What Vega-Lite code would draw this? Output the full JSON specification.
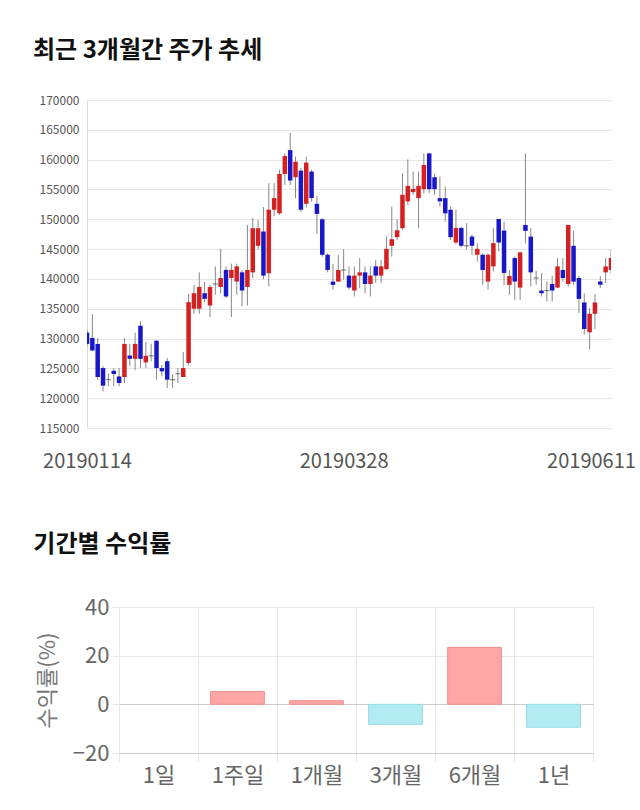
{
  "$schema": "https://vega.github.io/schema/vega-lite/v6.json",
  "background": "white",
  "padding": {"left": 33, "top": 39, "right": 0, "bottom": 0},
  "config": {"view": {"stroke": null}, "font": "Noto Sans CJK KR", "axisY": {"labelOverlap": false}},
  "datasets": {
    "candles": [
      {"d":"20190114","o":131000,"h":131500,"l":128700,"c":129100},
      {"d":"20190115","o":130100,"h":134100,"l":127900,"c":128000},
      {"d":"20190116","o":129100,"h":130100,"l":123100,"c":123550},
      {"d":"20190117","o":125050,"h":125350,"l":121150,"c":122100},
      {"d":"20190118","o":123100,"h":124100,"l":122000,"c":123100},
      {"d":"20190121","o":124600,"h":125050,"l":122000,"c":124050},
      {"d":"20190122","o":123650,"h":125050,"l":122000,"c":122550},
      {"d":"20190123","o":123550,"h":130100,"l":122550,"c":129100},
      {"d":"20190124","o":127150,"h":129100,"l":125350,"c":126600},
      {"d":"20190125","o":126600,"h":131000,"l":124700,"c":129100},
      {"d":"20190128","o":132150,"h":132900,"l":125050,"c":126600},
      {"d":"20190129","o":126000,"h":129400,"l":125050,"c":127100},
      {"d":"20190130","o":127100,"h":129100,"l":126200,"c":127100},
      {"d":"20190131","o":129650,"h":129650,"l":123100,"c":125050},
      {"d":"20190207","o":125050,"h":125600,"l":123650,"c":124500},
      {"d":"20190208","o":126200,"h":126750,"l":121700,"c":123100},
      {"d":"20190211","o":123100,"h":124000,"l":121700,"c":123100},
      {"d":"20190212","o":124100,"h":125050,"l":122550,"c":124100},
      {"d":"20190213","o":123550,"h":127750,"l":123550,"c":125050},
      {"d":"20190214","o":125900,"h":137500,"l":125450,"c":136100},
      {"d":"20190215","o":135000,"h":139000,"l":134150,"c":137600},
      {"d":"20190218","o":135000,"h":141100,"l":134150,"c":138650},
      {"d":"20190219","o":137600,"h":139550,"l":136100,"c":136650},
      {"d":"20190220","o":135550,"h":139000,"l":133600,"c":138650},
      {"d":"20190221","o":139150,"h":142100,"l":137350,"c":139150},
      {"d":"20190222","o":138650,"h":145050,"l":137600,"c":140150},
      {"d":"20190225","o":141500,"h":142100,"l":136800,"c":137050},
      {"d":"20190226","o":140150,"h":142550,"l":133600,"c":141500},
      {"d":"20190227","o":139550,"h":142550,"l":137350,"c":142100},
      {"d":"20190228","o":141100,"h":141500,"l":135450,"c":138050},
      {"d":"20190304","o":138650,"h":149050,"l":135550,"c":141500},
      {"d":"20190305","o":141100,"h":150200,"l":140150,"c":148500},
      {"d":"20190306","o":145550,"h":149900,"l":144900,"c":148500},
      {"d":"20190307","o":147950,"h":152050,"l":139950,"c":140550},
      {"d":"20190308","o":140950,"h":156050,"l":138750,"c":151600},
      {"d":"20190311","o":151600,"h":156050,"l":150500,"c":153550},
      {"d":"20190312","o":151000,"h":158300,"l":150750,"c":157600},
      {"d":"20190313","o":157600,"h":161050,"l":155750,"c":160600},
      {"d":"20190314","o":161600,"h":164500,"l":155750,"c":156500},
      {"d":"20190315","o":157050,"h":160500,"l":153550,"c":159650},
      {"d":"20190318","o":158150,"h":158600,"l":151200,"c":151600},
      {"d":"20190319","o":152600,"h":160500,"l":152000,"c":159500},
      {"d":"20190320","o":158000,"h":158300,"l":153000,"c":153550},
      {"d":"20190321","o":152600,"h":153900,"l":147550,"c":150900},
      {"d":"20190322","o":150000,"h":150200,"l":143750,"c":144050},
      {"d":"20190325","o":144050,"h":144300,"l":141100,"c":141500},
      {"d":"20190326","o":139550,"h":142500,"l":138200,"c":139000},
      {"d":"20190327","o":139550,"h":144050,"l":139550,"c":141500},
      {"d":"20190328","o":141500,"h":145000,"l":139850,"c":141500},
      {"d":"20190329","o":140550,"h":142100,"l":138200,"c":138550},
      {"d":"20190401","o":138050,"h":142100,"l":137050,"c":140550},
      {"d":"20190402","o":140550,"h":143500,"l":138450,"c":141100},
      {"d":"20190403","o":141100,"h":142100,"l":137600,"c":139150},
      {"d":"20190404","o":139150,"h":142100,"l":137050,"c":140550},
      {"d":"20190405","o":142100,"h":143200,"l":139350,"c":140550},
      {"d":"20190408","o":140550,"h":143200,"l":139350,"c":142100},
      {"d":"20190409","o":141650,"h":147100,"l":141500,"c":145050},
      {"d":"20190410","o":145550,"h":152150,"l":143750,"c":146650},
      {"d":"20190411","o":147000,"h":150000,"l":146550,"c":148150},
      {"d":"20190412","o":148500,"h":157700,"l":148250,"c":154100},
      {"d":"20190415","o":153000,"h":160050,"l":152400,"c":155600},
      {"d":"20190416","o":154550,"h":158000,"l":154100,"c":155100},
      {"d":"20190417","o":153550,"h":158000,"l":148500,"c":155600},
      {"d":"20190418","o":155050,"h":161050,"l":154350,"c":159100},
      {"d":"20190419","o":161050,"h":161050,"l":154350,"c":155050},
      {"d":"20190422","o":157050,"h":157700,"l":154100,"c":155050},
      {"d":"20190423","o":153550,"h":157150,"l":152150,"c":153000},
      {"d":"20190424","o":153550,"h":155500,"l":149600,"c":151000},
      {"d":"20190425","o":151600,"h":152150,"l":146550,"c":147000},
      {"d":"20190426","o":146100,"h":151600,"l":145800,"c":148550},
      {"d":"20190429","o":148550,"h":148800,"l":145300,"c":145550},
      {"d":"20190430","o":145550,"h":149350,"l":144900,"c":145550},
      {"d":"20190502","o":147100,"h":147400,"l":144000,"c":145550},
      {"d":"20190503","o":144050,"h":146000,"l":142900,"c":145050},
      {"d":"20190507","o":144050,"h":144300,"l":139000,"c":141500},
      {"d":"20190508","o":139550,"h":144300,"l":138200,"c":144050},
      {"d":"20190509","o":142100,"h":148500,"l":141250,"c":146000},
      {"d":"20190510","o":150050,"h":150050,"l":144600,"c":146100},
      {"d":"20190513","o":148100,"h":149600,"l":139000,"c":141000},
      {"d":"20190514","o":139000,"h":141500,"l":137350,"c":140500},
      {"d":"20190515","o":143500,"h":143750,"l":136500,"c":139550},
      {"d":"20190516","o":138550,"h":144600,"l":136500,"c":144450},
      {"d":"20190517","o":149050,"h":161050,"l":146000,"c":148050},
      {"d":"20190520","o":147100,"h":148500,"l":138750,"c":141100},
      {"d":"20190521","o":140150,"h":141350,"l":139000,"c":140150},
      {"d":"20190522","o":138050,"h":140950,"l":137050,"c":137600},
      {"d":"20190523","o":138050,"h":139550,"l":136200,"c":138050},
      {"d":"20190524","o":139150,"h":140550,"l":136200,"c":138050},
      {"d":"20190527","o":138550,"h":143500,"l":138450,"c":142100},
      {"d":"20190528","o":141500,"h":143500,"l":139550,"c":140150},
      {"d":"20190529","o":139150,"h":149050,"l":138750,"c":149050},
      {"d":"20190530","o":145550,"h":148100,"l":139000,"c":139550},
      {"d":"20190531","o":140150,"h":140500,"l":134250,"c":136650},
      {"d":"20190603","o":136050,"h":137600,"l":130650,"c":131600},
      {"d":"20190604","o":131050,"h":135100,"l":128150,"c":134150},
      {"d":"20190605","o":134150,"h":137500,"l":131600,"c":136050},
      {"d":"20190607","o":139550,"h":140500,"l":138450,"c":139000},
      {"d":"20190610","o":141100,"h":143500,"l":139300,"c":142100},
      {"d":"20190611","o":141500,"h":144900,"l":140950,"c":143500}
    ],
    "returns": [
      {"p":"1일","r":0},
      {"p":"1주일","r":5.3},
      {"p":"1개월","r":1.5},
      {"p":"3개월","r":-8.2},
      {"p":"6개월","r":23.4},
      {"p":"1년","r":-9.4}
    ]
  },
  "vconcat": [
    {
      "title": {"text": "최근 3개월간 주가 추세", "anchor": "start", "fontSize": 24, "fontWeight": "bold", "color": "#111111", "offset": 31, "dx": -6},
      "width": 524,
      "height": 328,
      "data": {"name": "candles"},
      "encoding": {
        "x": {
          "field": "d", "type": "ordinal",
          "scale": {"type": "point", "padding": 0},
          "axis": {
            "values": ["20190114", "20190328", "20190611"],
            "title": null, "labelAngle": 0, "labelFontSize": 20, "labelColor": "#555555",
            "labelPadding": 23, "ticks": false, "domain": false, "grid": false,
            "labelOffset": {"condition": {"test": "datum.value == '20190611'", "value": -20}, "value": 0}
          }
        }
      },
      "layer": [
        {
          "mark": {"type": "rule", "color": "#888888", "strokeWidth": 1, "clip": true},
          "encoding": {
            "y": {
              "field": "l", "type": "quantitative",
              "scale": {"domain": [115000, 170000], "nice": false, "zero": false},
              "axis": {
                "values": [115000,120000,125000,130000,135000,140000,145000,150000,155000,160000,165000,170000],
                "format": "d", "title": null, "labelFontSize": 12, "labelColor": "#555555",
                "labelOverlap": false, "labelPadding": 8, "ticks": false, "domain": true,
                "domainColor": "#dddddd", "gridColor": "#e6e6e6"
              }
            },
            "y2": {"field": "h"}
          }
        },
        {
          "mark": {"type": "bar", "size": 4.5, "clip": true},
          "encoding": {
            "y": {
              "field": "o", "type": "quantitative",
              "axis": {
                "values": [115000,120000,125000,130000,135000,140000,145000,150000,155000,160000,165000,170000],
                "format": "d", "title": null, "labelFontSize": 12, "labelColor": "#555555",
                "labelOverlap": false, "labelPadding": 8, "ticks": false, "domain": true,
                "domainColor": "#dddddd", "gridColor": "#e6e6e6"
              }
            },
            "y2": {"field": "c"},
            "color": {"condition": {"test": "datum.c > datum.o", "value": "#d42020"}, "value": "#1818c8"}
          }
        },
        {
          "transform": [{"filter": "datum.o == datum.c"}],
          "mark": {"type": "tick", "thickness": 1, "size": 5, "color": "#333333", "clip": true},
          "encoding": {
            "y": {
              "field": "c", "type": "quantitative",
              "axis": {
                "values": [115000,120000,125000,130000,135000,140000,145000,150000,155000,160000,165000,170000],
                "format": "d", "title": null, "labelFontSize": 12, "labelColor": "#555555",
                "labelOverlap": false, "labelPadding": 8, "ticks": false, "domain": true,
                "domainColor": "#dddddd", "gridColor": "#e6e6e6"
              }
            }
          }
        }
      ]
    },
    {
      "title": {"text": "기간별 수익률", "anchor": "start", "fontSize": 24, "fontWeight": "bold", "color": "#111111", "offset": 39, "dx": -3},
      "width": 506,
      "height": 146,
      "data": {"name": "returns"},
      "mark": {"type": "bar", "width": {"band": 0.68}, "strokeWidth": 1},
      "encoding": {
        "x": {
          "field": "p", "type": "nominal", "sort": null,
          "scale": {"paddingInner": 0, "paddingOuter": 0, "rangeMin": 32},
          "axis": {
            "title": null, "labelAngle": 0, "labelFontSize": 22, "labelColor": "#666666",
            "tickBand": "extent", "grid": true, "gridColor": "#e8e8e8", "ticks": true,
            "tickSize": 9, "tickColor": "#e8e8e8", "domain": true, "domainColor": "#cccccc",
            "labelPadding": 3
          }
        },
        "y": {
          "field": "r", "type": "quantitative",
          "scale": {"domain": [-20, 40], "nice": false},
          "axis": {
            "values": [-20, 0, 20, 40], "title": "수익률(%)", "titleFontSize": 22,
            "titleFontWeight": "normal", "titleColor": "#777777", "titlePadding": 13,
            "labelFontSize": 22, "labelColor": "#666666", "offset": -32,
            "gridColor": {"condition": {"test": "datum.value === 0", "value": "#cccccc"}, "value": "#e8e8e8"},
            "tickColor": "#e8e8e8", "tickSize": 7, "domain": false, "labelPadding": 3
          }
        },
        "fill": {"condition": [{"test": "datum.r > 0", "value": "#ffa5a5"}, {"test": "datum.r < 0", "value": "#b2ebf2"}], "value": "transparent"},
        "stroke": {"condition": [{"test": "datum.r > 0", "value": "#ee9090"}, {"test": "datum.r < 0", "value": "#95dbe6"}], "value": "transparent"}
      }
    }
  ],
  "spacing": 62
}
